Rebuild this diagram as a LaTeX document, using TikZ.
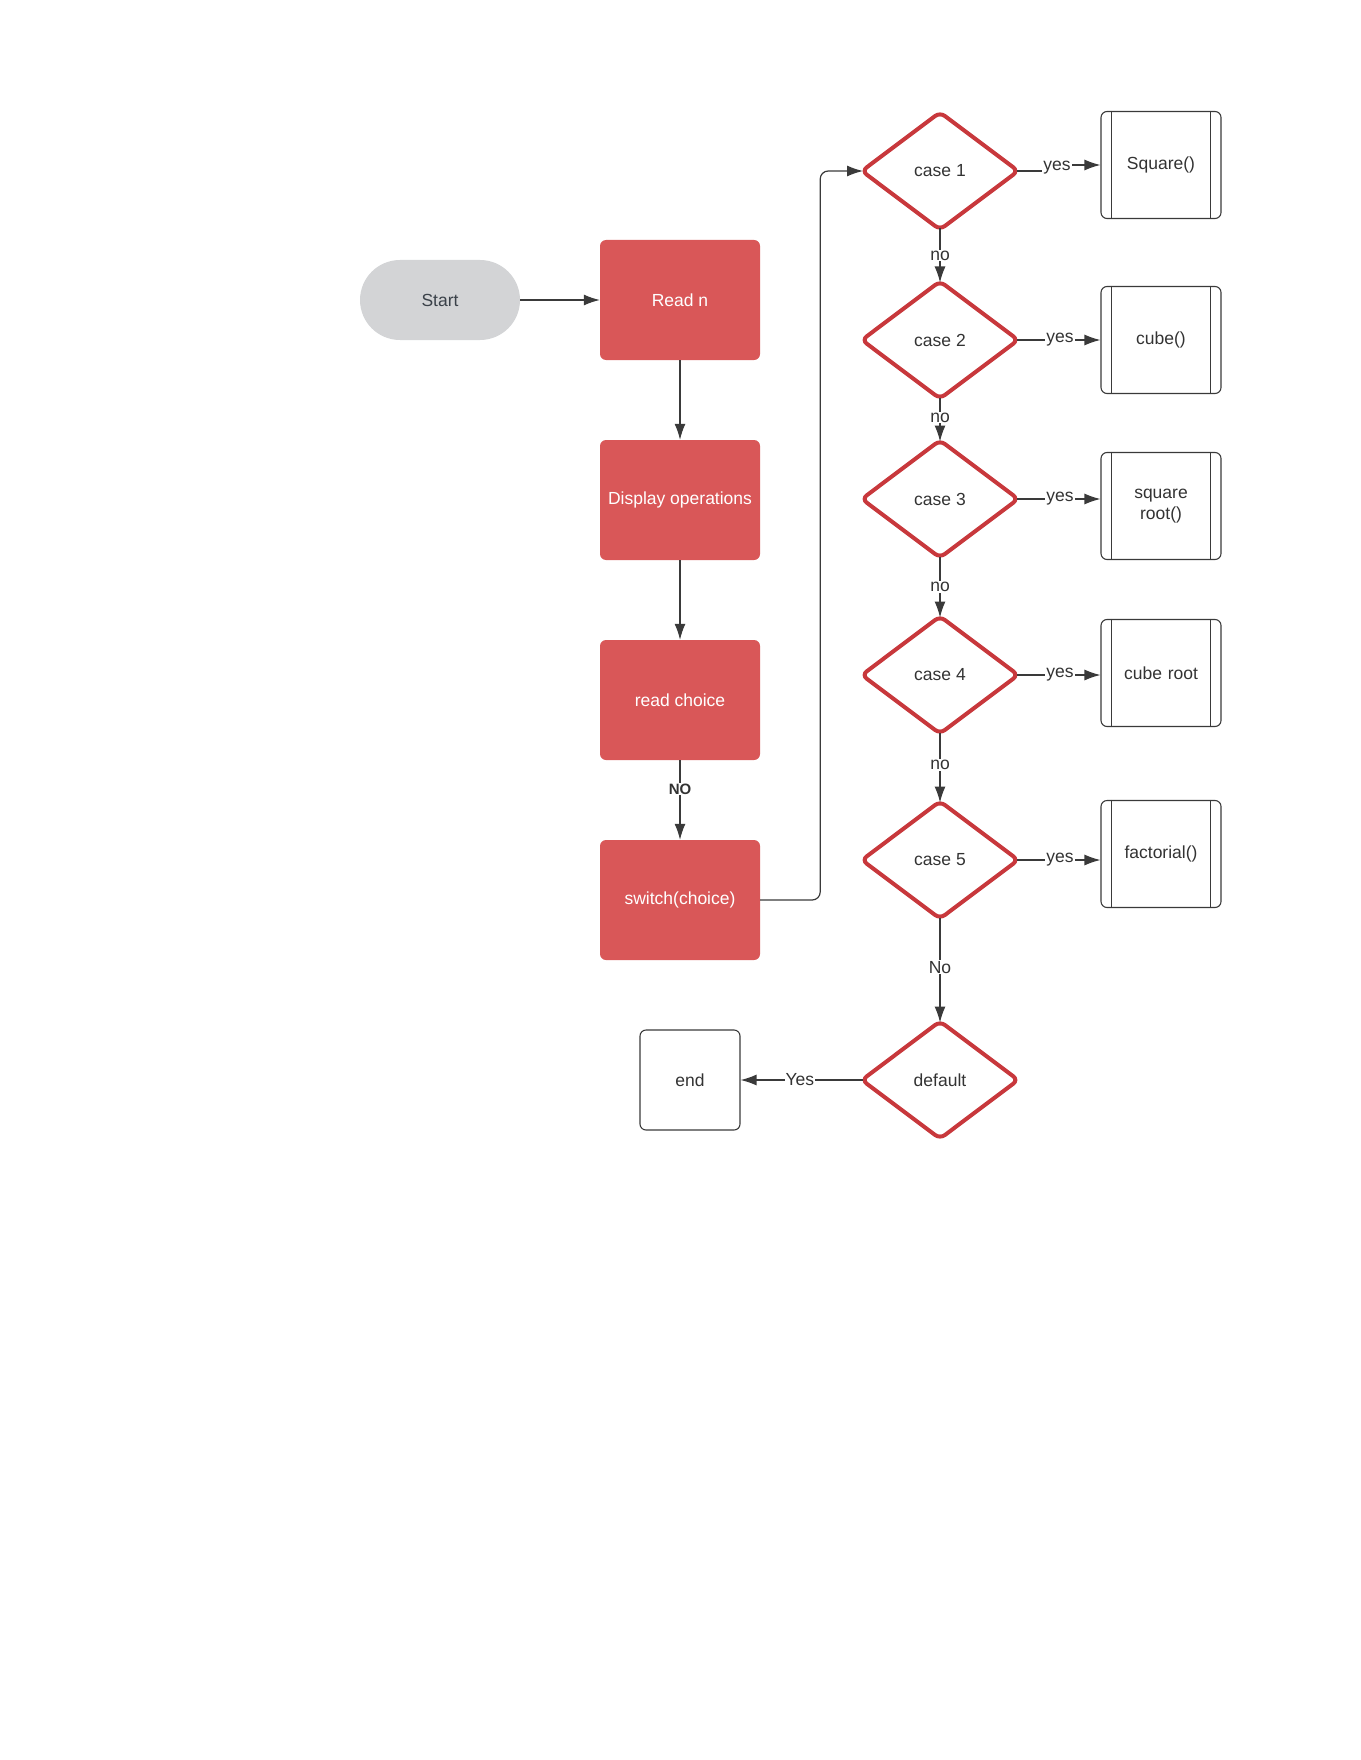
\documentclass[tikz,border=0pt]{standalone}
\usepackage{fontspec}
\setmainfont{Liberation Sans}
\usetikzlibrary{shapes.geometric,arrows.meta,positioning,calc}
\definecolor{boxred}{HTML}{D95758}
\definecolor{dred}{HTML}{C8383C}
\definecolor{startgray}{HTML}{D3D4D6}
\definecolor{txt}{HTML}{333333}
\definecolor{starttxt}{HTML}{3A4149}
\definecolor{lnk}{HTML}{3A3A3A}
\tikzset{
  base/.style={font=\fontsize{17.5}{21}\selectfont, align=center, inner sep=2pt},
  startbox/.style={base, rectangle, rounded corners=40pt, fill=startgray, text=starttxt, minimum width=160pt, minimum height=80pt},
  redbox/.style={base, rectangle, rounded corners=6pt, fill=boxred, text=white, minimum width=160pt, minimum height=120pt},
  casebox/.style={base, diamond, draw=dred, line width=4pt, rounded corners=6pt, text=txt, minimum width=158pt, minimum height=119pt, inner sep=0pt},
  subbox/.style={base, rectangle, rounded corners=6pt, draw=lnk, line width=1.1pt, text=txt, minimum width=120pt, minimum height=107pt, text width=90pt},
  endbox/.style={base, rectangle, rounded corners=6pt, draw=lnk, line width=1.1pt, text=txt, minimum width=100pt, minimum height=100pt},
  conn/.style={draw=lnk, line width=1.2pt, -{Latex[length=16pt,width=11pt]}},
  lbl/.style={font=\fontsize{17.5}{21}\selectfont, text=txt, fill=white, inner sep=1pt},
  blbl/.style={font=\fontsize{15}{18}\selectfont\bfseries, text=txt, fill=white, inner sep=1pt}
}
\newcommand{\subbars}[1]{%
  \draw[lnk, line width=1.1pt] ([xshift=11pt]#1.north west) -- ([xshift=11pt]#1.south west);
  \draw[lnk, line width=1.1pt] ([xshift=-11pt]#1.north east) -- ([xshift=-11pt]#1.south east);}
\begin{document}
\begin{tikzpicture}[x=1pt,y=-1pt]
\useasboundingbox (0,0) rectangle (1360,1760);
% left column
\node[startbox] (start) at (440,300) {Start};
\node[redbox] (readn) at (680,300) {Read n};
\node[redbox] (disp) at (680,500) {Display operations};
\node[redbox] (readc) at (680,700) {read choice};
\node[redbox] (sw) at (680,900) {switch(choice)};
% diamonds
\node[casebox] (c1) at (940,171) {case 1};
\node[casebox] (c2) at (940,340) {case 2};
\node[casebox] (c3) at (940,499) {case 3};
\node[casebox] (c4) at (940,675) {case 4};
\node[casebox] (c5) at (940,860) {case 5};
\node[casebox] (dflt) at (940,1080) {default};
% subroutine boxes
\node[subbox] (b1) at (1161,165) {Square()\\[22pt]};
\node[subbox] (b2) at (1161,340) {cube()};
\node[subbox] (b3) at (1161,506) {square\\root()};
\node[subbox] (b4) at (1161,673) {cube root\\[8pt]};
\node[subbox] (b5) at (1161,854) {factorial()\\[8pt]};
\subbars{b1}\subbars{b2}\subbars{b3}\subbars{b4}\subbars{b5}
\node[endbox] (end) at (690,1080) {end};
% connectors left column
\draw[conn] (start.east) -- (readn.west);
\draw[conn] (readn.south) -- (disp.north);
\draw[conn] (disp.south) -- (readc.north);
\draw[conn] (readc.south) -- node[blbl, pos=0.36] {NO} (sw.north);
\draw[conn, rounded corners=8pt, shorten >=-4pt] (sw.east) -- ++(60,0) |- (c1.west);
% case chain
\tikzset{dd/.style={conn, shorten <=-4pt, shorten >=-4pt}}
\draw[dd] (c1.south) -- node[lbl, midway] {no} (c2.north);
\draw[dd] (c2.south) -- node[lbl, pos=0.45] {no} (c3.north);
\draw[dd] (c3.south) -- node[lbl, midway] {no} (c4.north);
\draw[dd] (c4.south) -- node[lbl, pos=0.46] {no} (c5.north);
\draw[dd] (c5.south) -- node[lbl, pos=0.47] {No} (dflt.north);
% yes branches
\coordinate (y1) at (1057,171);
\draw[conn, shorten <=-4pt] (c1.east) -- (y1) |- (b1.west);
\node[lbl] at (1057,168) {yes};
\draw[conn, shorten <=-4pt] (c2.east) -- node[lbl, pos=0.49] {yes} (b2.west |- c2.east);
\draw[conn, shorten <=-4pt] (c3.east) -- node[lbl, pos=0.49] {yes} (b3.west |- c3.east);
\draw[conn, shorten <=-4pt] (c4.east) -- node[lbl, pos=0.49] {yes} (b4.west |- c4.east);
\draw[conn, shorten <=-4pt] (c5.east) -- node[lbl, pos=0.49] {yes} (b5.west |- c5.east);
% default
\draw[conn, shorten <=-4pt] (dflt.west) -- node[lbl, midway] {Yes} (end.east);
\end{tikzpicture}
\end{document}
